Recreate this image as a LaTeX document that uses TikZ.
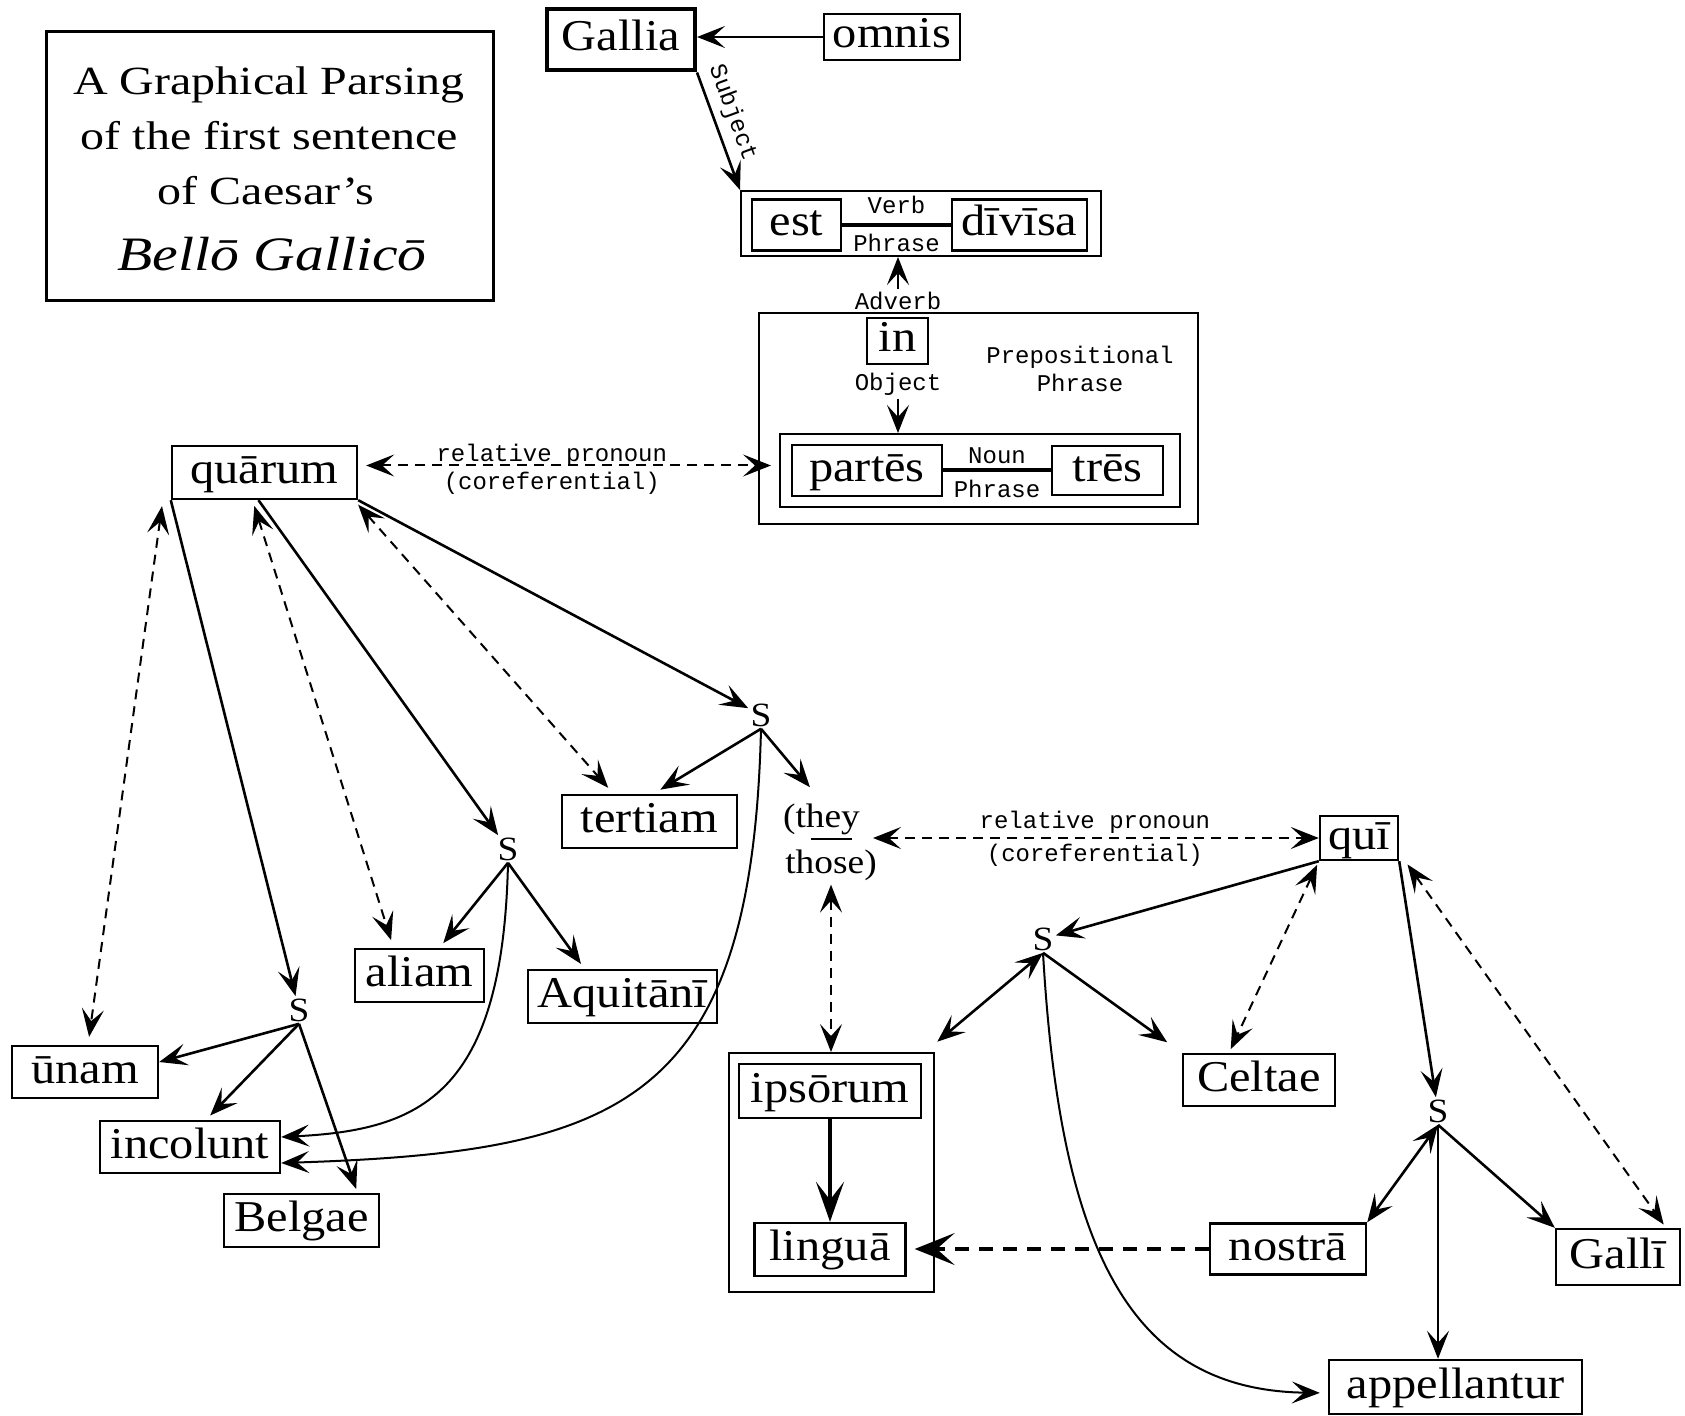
\documentclass[tikz,border=0pt]{standalone}
\usepackage{fontspec}
\setmainfont{Liberation Serif}
\newfontfamily\wordfont[FakeStretch=1.1]{Liberation Serif}
\newfontfamily\ttlfont[FakeStretch=1.2]{Liberation Serif}
\newfontfamily\monofnt{Liberation Mono}
\usetikzlibrary{arrows.meta}
\begin{document}
\begin{tikzpicture}[x=0.5pt,y=-0.5pt,
  bh/.tip={Stealth[length=14pt,width=11pt,inset=6pt]},
  word/.style={draw, line width=1.2pt, inner sep=0pt, font=\wordfont\fontsize{22}{26}\selectfont, text height=15.5pt, text depth=4.5pt},
  px/.style 2 args={minimum width=#1*0.5pt, minimum height=#2*0.5pt},
  grp/.style={draw, line width=1pt, inner sep=0pt},
  lbl/.style={font=\monofnt\fontsize{12}{14}\selectfont, inner sep=1.5pt},
  sn/.style={font=\wordfont\fontsize{17}{20}\selectfont, inner sep=1pt},
  ttl/.style={font=\ttlfont\fontsize{20}{24}\selectfont, anchor=base, inner sep=0pt},
  sarr/.style={-bh, line width=1.3pt},
  sdarr/.style={bh-bh, line width=1.3pt},
  carr/.style={-bh, line width=1pt},
  darr/.style={bh-bh, line width=1pt, dash pattern=on 5pt off 3.5pt},
]
\useasboundingbox (0,0) rectangle (1685,1416);

% title
\node[draw, line width=1.5pt, px={447}{269}] (title) at (269.5,166.5) {};
\node[ttl] (t1) at (269,95) {A Graphical Parsing};
\node[ttl] (t2) at (269.5,150) {of the first sentence};
\node[ttl] (t3) at (266,205) {of Caesar’s};
\node[ttl, font=\ttlfont\itshape\fontsize{24}{28}\selectfont] (t4) at (272,271) {Bellō Gallicō};

% top part
\node[word, line width=2pt, px={148}{61}] (gallia) at (621,40) {Gallia};
\node[word, px={136}{46}] (omnis) at (892,37) {omnis};
\node[grp, px={360}{65}] (vp) at (921,223.5) {};
\node[word, px={89}{51}] (est) at (796.5,225) {est};
\node[word, px={135}{51}] (divisa) at (1019.5,225) {dīvīsa};
\node[lbl] (adv) at (898,301) {Adverb};
\node[grp, px={439}{211}] (pp) at (978.5,418.5) {};
\node[word, px={61}{46}] (in) at (897.5,341) {in};
\node[lbl] (obj) at (898,384) {Object};
\node[lbl, align=center] (prep) at (1080,369) {Prepositional\\Phrase};
\node[grp, px={400}{73}] (np) at (980,470.5) {};
\node[word, px={150}{51}] (partes) at (867,470.5) {partēs};
\node[word, px={111}{49}] (tres) at (1107.5,470.5) {trēs};

% left part
\node[word, px={185}{53}] (quarum) at (264.5,472.5) {quārum};
\node[sn] (s1) at (761,715) {S};
\node[sn] (s2) at (508,849) {S};
\node[sn] (s3) at (299,1010) {S};
\node[word, px={175}{53}] (tertiam) at (649.5,821.5) {tertiam};
\node[word, px={129}{53}] (aliam) at (419.5,975.5) {aliam};
\node[word, px={189}{53}] (aquitani) at (622.5,996.5) {Aquitānī};
\node[word, px={146}{52}] (unam) at (85,1072) {ūnam};
\node[word, px={180}{52}] (incolunt) at (190,1147) {incolunt};
\node[word, px={155}{53}] (belgae) at (301.5,1220.5) {Belgae};

% middle
\node[sn, anchor=base] (they) at (821.5,827) {(they};
\node[sn, anchor=base] (those) at (831,873) {those)};
\draw[line width=1.2pt] (811,839) -- (852,839);
\coordinate (pronr) at (871,838);
\node[grp, px={205}{239}] (ipsbox) at (831.5,1172.5) {};
\node[word, px={182}{54}] (ipsorum) at (830,1091) {ipsōrum};
\node[word, px={151}{53}] (lingua) at (830,1249.5) {linguā};

% right part
\node[word, px={78}{44}] (qui) at (1359,838) {quī};
\node[sn] (s4) at (1043,939) {S};
\node[sn] (s5) at (1438,1111) {S};
\node[word, px={152}{52}] (celtae) at (1259,1080) {Celtae};
\node[word, px={156}{51}] (nostra) at (1288,1249) {nostrā};
\node[word, px={124}{56}] (galli) at (1618,1257) {Gallī};
\node[word, px={253}{54}] (appell) at (1455.5,1387) {appellantur};

% connectors: top
\draw[sarr] (omnis.west) -- (omnis.west -| gallia.east);
\draw[sarr] (gallia.south east) -- node[lbl, sloped, above=2pt, pos=0.4]{Subject} (vp.north west);
\draw[line width=2pt] (est.east) -- node[lbl, above=3pt]{Verb} node[lbl, below=2pt]{Phrase} (divisa.west);
\draw[sarr] (adv.north) -- (adv.north |- vp.south);
\draw[sarr] (obj.south) -- (obj.south |- np.north);
\draw[line width=2pt] (partes.east) -- node[lbl, above=1pt]{Noun} node[lbl, below=2.5pt]{Phrase} (tres.west);

% quarum
\draw[darr, shorten <=4pt, shorten >=4pt] ([yshift=3.5pt]quarum.east) --
  node[lbl, pos=0.46, above=-2.5pt]{relative pronoun}
  node[lbl, pos=0.46, below=1.5pt]{(coreferential)}
  ([yshift=3.5pt]quarum.east -| np.west);
\draw[sarr] (quarum.south east) -- (s1);
\draw[darr, shorten <=3pt, shorten >=4pt] ([xshift=-2pt]quarum.south east) -- ([xshift=-18pt]tertiam.north);
\draw[sarr] ([xshift=-3pt]quarum.south) -- (s2);
\draw[darr, shorten <=3pt, shorten >=4pt] ([xshift=-6pt]quarum.south) -- ([xshift=-13pt]aliam.north);
\draw[sarr] (quarum.south west) -- (s3);
\draw[darr, shorten <=3pt, shorten >=4pt] ([xshift=-4pt]quarum.south west) -- ([xshift=1.5pt]unam.north);

% S1
\draw[sarr, shorten >=4pt] (s1.south) -- ([xshift=2pt]tertiam.north);
\draw[sarr, shorten >=9pt] (s1.south) -- (they.north);
\draw[carr] (s1.south) .. controls (752,1105) and (620,1152) .. ([yshift=-8pt]incolunt.east);
% S2
\draw[sarr, shorten >=3pt] (s2.south) -- ([xshift=10pt]aliam.north);
\draw[sarr, shorten >=3pt] (s2.south) -- ([xshift=-19pt]aquitani.north);
\draw[carr] (s2.south) .. controls (503,1095) and (420,1130) .. ([yshift=5pt]incolunt.east);
% S3
\draw[sarr] (s3.south) -- ([yshift=5pt]unam.east);
\draw[sarr, shorten >=3pt] (s3.south) -- ([xshift=8pt]incolunt.north);
\draw[sarr, shorten >=2pt] (s3.south) -- ([xshift=28pt]belgae.north);

% they/those
\draw[darr, shorten <=1pt] (pronr) --
  node[lbl, above=0.5pt]{relative pronoun}
  node[lbl, below=1pt]{(coreferential)} (qui.west);
\draw[darr, shorten <=1pt] (those.south) -- (those.south |- ipsbox.north);
\draw[line width=2pt, -{Stealth[length=20pt,width=14pt,inset=9pt]}] (ipsorum.south) -- (ipsorum.south |- lingua.north);
\draw[line width=2pt, dash pattern=on 7pt off 5pt, -{Stealth[length=20pt,width=16pt,inset=9pt]}, shorten >=4pt] (nostra.west) -- (nostra.west -| lingua.east);

% qui and S4
\draw[sarr] (qui.south west) -- (s4);
\draw[sdarr, shorten >=8pt] (s4.south) -- ([xshift=-5pt]ipsbox.north east);
\draw[sarr, shorten >=9pt] (s4.south) -- (celtae.north west);
\draw[carr, shorten >=4pt] (s4.south) .. controls (1060,1250) and (1130,1390) .. ([yshift=-3pt]appell.west);
\draw[darr, shorten <=2pt, shorten >=2pt] (qui.south west) -- ([xshift=-15pt]celtae.north);
% S5
\draw[sarr] (qui.south east) -- (s5);
\draw[darr, shorten <=2pt, shorten >=2pt] ([xshift=3pt]qui.south east) -- ([xshift=24pt]galli.north);
\draw[sdarr] (s5.south) -- (nostra.north east);
\draw[sarr] (s5.south) -- (galli.north west);
\draw[sarr] (s5.south) -- (s5.south |- appell.north);
\end{tikzpicture}
\end{document}
